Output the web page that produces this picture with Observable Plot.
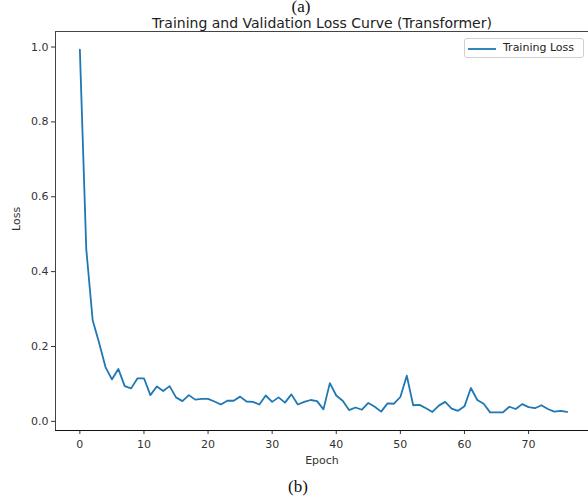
<!DOCTYPE html>
<html>
<head>
<meta charset="utf-8">
<script src="https://cdn.jsdelivr.net/npm/d3@7"></script>
<script src="https://cdn.jsdelivr.net/npm/@observablehq/plot@0.6"></script>
<style>
  html, body { margin: 0; padding: 0; background: #fff; }
  #wrap { position: relative; width: 588px; height: 501px; overflow: hidden; font-family: "DejaVu Sans", sans-serif; }
  .legend { position: absolute; left: 464px; top: 38px; width: 120px; height: 20px; border: 1px solid #d0d0d0; border-radius: 3px; background: #fff; box-sizing: border-box; }
  .legend svg { position: absolute; left: 3px; top: 8px; }
  .legend span { position: absolute; left: 38px; top: 2px; font-size: 11px; color: #222; white-space: nowrap; }
</style>
</head>
<body>
<div id="wrap"></div>
<script>
const title = "Training and Validation Loss Curve (Transformer)";
const xLabel = "Epoch";
const yLabel = "Loss";
const seriesName = "Training Loss";
const xTicks = [0, 10, 20, 30, 40, 50, 60, 70];
const yTicks = [0.0, 0.2, 0.4, 0.6, 0.8, 1.0];
const trainingLoss = [
  0.993, 0.46, 0.27, 0.21, 0.145, 0.112, 0.14, 0.094, 0.088, 0.115,
  0.115, 0.07, 0.093, 0.081, 0.094, 0.064, 0.054, 0.07, 0.058, 0.06,
  0.06, 0.053, 0.045, 0.055, 0.055, 0.066, 0.053, 0.052, 0.045, 0.069,
  0.052, 0.064, 0.05, 0.072, 0.045, 0.052, 0.057, 0.054, 0.032, 0.102,
  0.069, 0.055, 0.03, 0.037, 0.031, 0.049, 0.039, 0.026, 0.048, 0.047,
  0.065, 0.122, 0.043, 0.044, 0.035, 0.025, 0.042, 0.052, 0.034, 0.028,
  0.04, 0.089, 0.057, 0.047, 0.024, 0.024, 0.024, 0.039, 0.033, 0.046,
  0.038, 0.035, 0.043, 0.033, 0.026, 0.028, 0.025
];

const data = trainingLoss.map((loss, epoch) => ({epoch, loss}));
const xDomain = [-3.8, 79.35];
const yDomain = [-0.0245, 1.0415];
const color = "#1f77b4";
const font = "DejaVu Sans, sans-serif";

const chart = Plot.plot({
  width: 588,
  height: 501,
  marginLeft: 55,
  marginRight: 0,
  marginTop: 31,
  marginBottom: 71,
  style: {fontFamily: font, background: "white", overflow: "visible"},
  x: {domain: xDomain},
  y: {domain: yDomain},
  marks: [
    Plot.axisX({ticks: xTicks, tickSize: 4, tickPadding: 6, fontSize: 11, label: null, color: "#333", stroke: "#333"}),
    Plot.axisY({ticks: yTicks, tickSize: 4, tickPadding: 3, fontSize: 11, label: null, tickFormat: d3.format(".1f"), color: "#333", stroke: "#333"}),
    Plot.ruleX([xDomain[0]], {stroke: "#444", strokeWidth: 1}),
    Plot.ruleY([yDomain[1]], {stroke: "#444", strokeWidth: 1}),
    Plot.ruleY([yDomain[0]], {stroke: "#111", strokeWidth: 1.2}),
    Plot.line(data, {x: "epoch", y: "loss", stroke: color, strokeWidth: 1.8}),
    Plot.text([title], {frameAnchor: "top", dy: -13, fontSize: 14, fill: "#222", fontFamily: font}),
    Plot.text(["(a)"], {frameAnchor: "top", dx: -21, dy: -32, fontSize: 17, fill: "#111", fontFamily: "Liberation Serif, serif"}),
    Plot.text([xLabel], {frameAnchor: "bottom", dy: 33, fontSize: 11, fill: "#333"}),
    Plot.text([yLabel], {frameAnchor: "left", dx: -39, rotate: -90, fontSize: 11, fill: "#333"}),
    Plot.text(["(b)"], {frameAnchor: "bottom", dx: -24, dy: 61, fontSize: 17, fill: "#111", fontFamily: "Liberation Serif, serif"})
  ]
});

const wrap = document.getElementById("wrap");
wrap.appendChild(chart);

const legend = document.createElement("div");
legend.className = "legend";
legend.innerHTML = `<svg width="30" height="4"><line x1="0" x2="28" y1="2" y2="2" stroke="${color}" stroke-width="1.8"/></svg><span>${seriesName}</span>`;
wrap.appendChild(legend);
</script>
</body>
</html>
